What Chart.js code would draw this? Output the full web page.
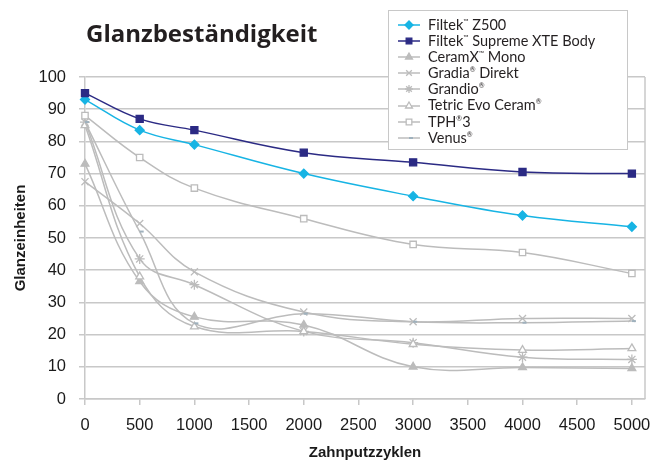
<!DOCTYPE html>
<html>
<head>
<meta charset="utf-8">
<script src="https://cdn.jsdelivr.net/npm/chart.js@4/dist/chart.umd.min.js"></script>
<style>
  html, body { margin: 0; padding: 0; background: #fff; }
  #wrap { position: relative; width: 666px; height: 462px; }
  #titel {
    position: absolute; left: 86px; top: 16px;
    font: 700 24px "Open Sans", sans-serif; color: #231f20;
  }
  #legende {
    position: absolute; left: 388px; top: 10px; width: 240px; height: 140px;
    border: 1.5px solid #c8c8c8; background: #fff;
    font: 14.5px "Lato", sans-serif; color: #231f20;
    padding-top: 6px; box-sizing: border-box;
  }
  .zeile { height: 16.1px; line-height: 16.1px; display: flex; align-items: center; }
  .zeile canvas { margin-left: 8px; margin-right: 7px; }
  sup { font-size: 7px; vertical-align: 6px; line-height: 0; }
</style>
</head>
<body>
<div id="wrap">
  <canvas id="glanzChart" width="666" height="462"></canvas>
  <div id="titel">Glanzbeständigkeit</div>
  <div id="legende"></div>
</div>
<script>
// Daten
const zyklen = [0, 500, 1000, 2000, 3000, 4000, 5000];
const filtekZ500 = [93, 83.5, 79, 70, 63, 57, 53.5];
const filtekSupreme = [95, 87, 83.5, 76.5, 73.5, 70.5, 70];
const ceramX = [73, 36.5, 25.5, 23, 10, 9.8, 9.5];
const gradia = [67.5, 54.5, 39.5, 27, 24, 25, 25];
const grandio = [86, 43.5, 35.5, 21, 17.5, 13, 12.3];
const tetric = [85, 38, 22.5, 21, 17, 15.2, 15.7];
const tph3 = [88, 75, 65.5, 56, 48, 45.5, 39];
const venus = [86, 52, 23.5, 26.5, 24, 23.7, 24.2];
const xTicks = [0, 500, 1000, 1500, 2000, 2500, 3000, 3500, 4000, 4500, 5000];
const yTicks = [0, 10, 20, 30, 40, 50, 60, 70, 80, 90, 100];

const grau = '#bcbcbc';
const gitter = '#c8c8c8';

function serie(label, werte, farbe, form, radius, fuellung, html) {
  return {
    label: label,
    html: html,
    data: zyklen.map((x, i) => ({ x: x, y: werte[i] })),
    borderColor: farbe,
    backgroundColor: fuellung,
    pointBackgroundColor: fuellung,
    pointBorderColor: form === 'dash' ? '#9fb1bd' : farbe,
    pointStyle: form,
    pointRadius: radius,
    pointBorderWidth: form === 'dash' ? 2 : 1.3,
    borderWidth: 1.5,
    tension: 0.4,
    clip: false
  };
}

// Reihenfolge: graue Linien hinten, Filtek vorne
const datensaetze = [
  serie('Venus', venus, grau, 'dash', 4, '#9fb1bd', 'Venus<sup>®</sup>'),
  serie('TPH3', tph3, grau, 'rect', 4.5, '#fff', 'TPH<sup>®</sup>3'),
  serie('Tetric Evo Ceram', tetric, grau, 'triangle', 4.5, '#fff', 'Tetric Evo Ceram<sup>®</sup>'),
  serie('Grandio', grandio, grau, 'star', 5, grau, 'Grandio<sup>®</sup>'),
  serie('Gradia Direkt', gradia, grau, 'crossRot', 5, grau, 'Gradia<sup>®</sup> Direkt'),
  serie('CeramX Mono', ceramX, grau, 'triangle', 4.5, grau, 'CeramX<sup>™</sup> Mono'),
  serie('Filtek Supreme XTE Body', filtekSupreme, '#2b2a84', 'rect', 5, '#2b2a84', 'Filtek<sup>™</sup> Supreme XTE Body'),
  serie('Filtek Z500', filtekZ500, '#17b4e4', 'rectRot', 4.5, '#17b4e4', 'Filtek<sup>™</sup> Z500')
];

// rechter Rahmen der Zeichenfläche
const rahmenRechts = {
  id: 'rahmenRechts',
  beforeDatasetsDraw(chart) {
    const a = chart.chartArea;
    const ctx = chart.ctx;
    ctx.save();
    ctx.strokeStyle = gitter;
    ctx.lineWidth = 1.5;
    ctx.beginPath();
    ctx.moveTo(a.right, a.top);
    ctx.lineTo(a.right, a.bottom);
    ctx.stroke();
    ctx.restore();
  }
};

const glanzChart = new Chart(document.getElementById('glanzChart'), {
  type: 'line',
  data: { datasets: datensaetze },
  plugins: [rahmenRechts],
  options: {
    responsive: false,
    animation: false,
    layout: { padding: { left: 0, top: 77, right: 21, bottom: 0 } },
    plugins: { legend: { display: false }, title: { display: false }, tooltip: { enabled: false } },
    scales: {
      x: {
        type: 'linear',
        min: 0,
        max: 5120,
        afterFit: s => { s.height = 63; },
        afterBuildTicks: s => { s.ticks = xTicks.map(v => ({ value: v })); },
        ticks: {
          padding: 11,
          maxRotation: 0,
          autoSkip: false,
          color: '#1a1a1a',
          font: { family: 'Liberation Sans', size: 16.5 },
          callback: v => String(v)
        },
        grid: { drawOnChartArea: false, drawTicks: true, tickLength: 6, color: gitter, lineWidth: 1.5 },
        border: { color: gitter, width: 1.5 },
        title: {
          display: true,
          text: 'Zahnputzzyklen',
          color: '#1a1a1a',
          padding: { top: 0, bottom: 0 },
          font: { family: 'Liberation Sans', size: 15, weight: 'bold' }
        }
      },
      y: {
        min: 0,
        max: 100,
        afterFit: s => { s.width = 85; },
        afterBuildTicks: s => { s.ticks = yTicks.map(v => ({ value: v })); },
        ticks: {
          padding: 13,
          color: '#1a1a1a',
          font: { family: 'Liberation Sans', size: 16.5 }
        },
        grid: { color: gitter, lineWidth: 1.5, tickLength: 6 },
        border: { color: gitter, width: 1.5 },
        title: {
          display: true,
          text: 'Glanzeinheiten',
          color: '#1a1a1a',
          padding: { top: 12, bottom: 0 },
          font: { family: 'Liberation Sans', size: 15, weight: 'bold' }
        }
      }
    }
  }
});

// Legende (Reihenfolge wie im Original)
const legende = document.getElementById('legende');
[...datensaetze].reverse().forEach(ds => {
  const zeile = document.createElement('div');
  zeile.className = 'zeile';
  const c = document.createElement('canvas');
  c.width = 24; c.height = 14;
  const ctx = c.getContext('2d');
  ctx.strokeStyle = ds.borderColor;
  ctx.lineWidth = 1.5;
  ctx.beginPath();
  ctx.moveTo(1, 7); ctx.lineTo(23, 7);
  ctx.stroke();
  ctx.fillStyle = ds.pointBackgroundColor;
  ctx.strokeStyle = ds.pointBorderColor;
  ctx.lineWidth = ds.pointBorderWidth;
  Chart.helpers.drawPoint(ctx, { pointStyle: ds.pointStyle, radius: Math.min(ds.pointRadius, 4), rotation: 0, borderWidth: ds.pointBorderWidth }, 12, 7);
  const text = document.createElement('span');
  text.innerHTML = ds.html;
  zeile.appendChild(c);
  zeile.appendChild(text);
  legende.appendChild(zeile);
});
</script>
</body>
</html>
